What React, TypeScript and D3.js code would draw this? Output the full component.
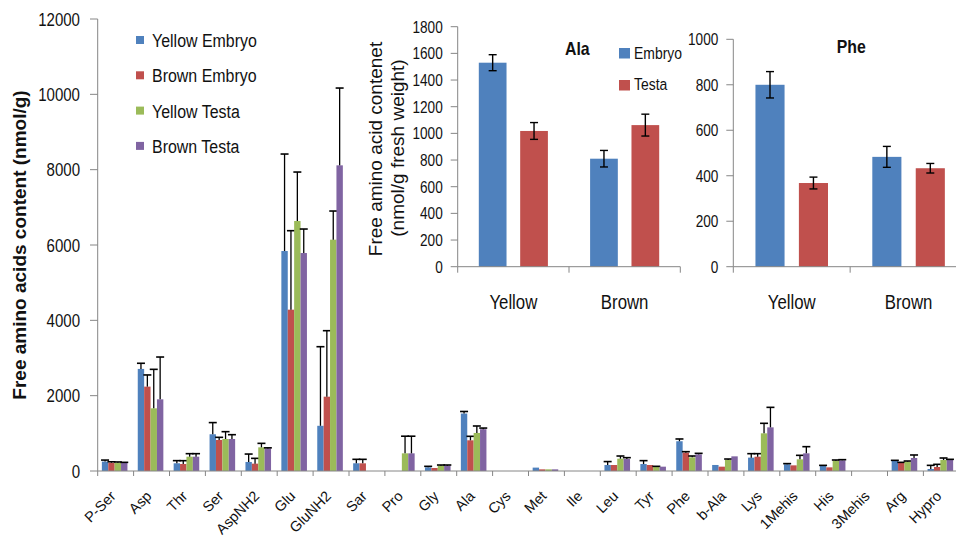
import React from 'react';
import * as d3 from 'd3';

const categories = ['P-Ser', 'Asp', 'Thr', 'Ser', 'AspNH2', 'Glu', 'GluNH2', 'Sar', 'Pro', 'Gly', 'Ala', 'Cys', 'Met', 'Ile', 'Leu', 'Tyr', 'Phe', 'b-Ala', 'Lys', '1Mehis', 'His', '3Mehis', 'Arg', 'Hypro'];

const yellowEmbryo = [250, 2710, 205, 975, 240, 5840, 1200, 205, 0, 97, 1525, 0, 90, 0, 160, 185, 790, 160, 355, 178, 133, 0, 265, 53];
const yellowEmbryoErr = [40, 150, 70, 310, 210, 2575, 2100, 105, 0, 27, 55, 0, 0, 0, 90, 90, 60, 0, 105, 18, 17, 0, 18, 97];

const brownEmbryo = [220, 2240, 186, 823, 195, 4283, 1973, 204, 0, 80, 815, 0, 44, 0, 159, 159, 487, 115, 380, 150, 97, 0, 212, 106];
const brownEmbryoErr = [25, 310, 88, 71, 141, 2097, 1752, 106, 0, 0, 106, 0, 0, 0, 0, 0, 26, 0, 80, 0, 0, 0, 18, 71];

const yellowTesta = [220, 1664, 380, 850, 628, 6637, 6141, 0, 469, 142, 1010, 0, 44, 0, 327, 106, 363, 292, 1000, 310, 274, 0, 248, 292];
const yellowTestaErr = [20, 1035, 80, 194, 106, 1300, 761, 0, 455, 17, 185, 0, 0, 0, 71, 18, 35, 26, 266, 106, 18, 0, 17, 53];

const brownTesta = [220, 1903, 380, 850, 600, 5787, 8115, 0, 469, 142, 1110, 0, 44, 0, 318, 115, 442, 389, 1159, 469, 283, 0, 345, 292];
const brownTestaErr = [10, 1123, 80, 114, 15, 637, 2052, 0, 455, 17, 30, 0, 0, 0, 36, 0, 27, 0, 531, 177, 18, 0, 80, 18];

const seriesNames = ['Yellow Embryo', 'Brown Embryo', 'Yellow Testa', 'Brown Testa'];
const seriesColors = ['#4F81BD', '#C0504D', '#9BBB59', '#8064A2'];
const mainTicks = [0, 2000, 4000, 6000, 8000, 10000, 12000];

const insetGroups = ['Yellow', 'Brown'];
const insetSeries = ['Embryo', 'Testa'];
const insetColors = ['#4F81BD', '#C0504D'];

const alaEmbryo = [1530, 810];
const alaEmbryoErr = [60, 62];
const alaTesta = [1018, 1062];
const alaTestaErr = [63, 82];
const alaTicks = [0, 200, 400, 600, 800, 1000, 1200, 1400, 1600, 1800];

const pheEmbryo = [800, 483];
const pheEmbryoErr = [58, 46];
const pheTesta = [368, 433];
const pheTestaErr = [26, 21];
const pheTicks = [0, 200, 400, 600, 800, 1000];

const FONT = '"Liberation Sans", Arial, sans-serif';
const AXIS = '#868686';

function T(props: any) {
  const { x, y, size, sx = 1, anchor = 'start', weight = 'normal', children } = props;
  return (
    <text transform={`translate(${x},${y}) scale(${sx},1)`} fontSize={size} textAnchor={anchor} fontWeight={weight} fill="#111" fontFamily={FONT}>
      {children}
    </text>
  );
}

function Inset(props: any) {
  const { x0, x1, yTop, yMax, ticks, embryo, embryoErr, testa, testaErr, title, titleX, titleY, legend } = props;
  const yBase = 266.7;
  const gx = d3.scaleBand<string>().domain(insetGroups).range([x0, x1]);
  const sx = d3.scaleBand<number>().domain([0, 1]).range([0, gx.bandwidth()]).paddingInner(0.33).paddingOuter(0.51);
  const y = d3.scaleLinear().domain([0, yMax]).range([yBase, yTop]);
  const vals = [embryo, testa];
  const errs = [embryoErr, testaErr];
  return (
    <g>
      {insetGroups.map((g, gi) =>
        [0, 1].map((si) => {
          const v = vals[si][gi];
          const e = errs[si][gi];
          const bx = (gx(g) as number) + (sx(si) as number);
          const bw = sx.bandwidth();
          const cx = bx + bw / 2;
          return (
            <g key={g + si}>
              <rect x={bx} y={y(v)} width={bw} height={yBase - y(v)} fill={insetColors[si]} />
              <line x1={cx} x2={cx} y1={y(v - e)} y2={y(v + e)} stroke="#000" strokeWidth={1.4} />
              <line x1={cx - 4} x2={cx + 4} y1={y(v - e)} y2={y(v - e)} stroke="#000" strokeWidth={1.4} />
              <line x1={cx - 4} x2={cx + 4} y1={y(v + e)} y2={y(v + e)} stroke="#000" strokeWidth={1.4} />
            </g>
          );
        })
      )}
      <line x1={x0} x2={x0} y1={y(yMax)} y2={yBase} stroke={AXIS} strokeWidth={1} />
      <line x1={x0} x2={x1} y1={yBase} y2={yBase} stroke={AXIS} strokeWidth={1} />
      {ticks.map((t: number) => (
        <g key={t}>
          <line x1={x0 - 7} x2={x0} y1={y(t)} y2={y(t)} stroke={AXIS} strokeWidth={1} />
          <T x={x0 - 15} y={y(t) + 6} size={17} sx={0.8} anchor="end">{t}</T>
        </g>
      ))}
      {[0, 1, 2].map((i) => {
        const tx = x0 + i * gx.bandwidth();
        return <line key={i} x1={tx} x2={tx} y1={yBase} y2={yBase + 6} stroke={AXIS} strokeWidth={1} />;
      })}
      {insetGroups.map((g) => (
        <T key={g} x={(gx(g) as number) + gx.bandwidth() / 2} y={309} size={21} sx={0.8} anchor="middle">{g}</T>
      ))}
      <T x={titleX} y={titleY} size={18} sx={0.88} weight="bold">{title}</T>
      {legend &&
        insetSeries.map((s, i) => (
          <g key={s}>
            <rect x={619} y={48 + i * 32} width={11} height={10.5} fill={insetColors[i]} />
            <T x={634} y={58.5 + i * 31} size={17} sx={0.82}>{s}</T>
          </g>
        ))}
    </g>
  );
}

export default function App() {
  const x = d3.scaleBand<string>().domain(categories).range([97.7, 97.7 + 24 * 35.9]);
  const xs = d3.scaleBand<number>().domain([0, 1, 2, 3]).range([0, x.bandwidth() - 2]).paddingOuter(0.65).paddingInner(0);
  const y = d3.scaleLinear().domain([0, 12000]).range([471, 19]);
  const series = [yellowEmbryo, brownEmbryo, yellowTesta, brownTesta];
  const errs = [yellowEmbryoErr, brownEmbryoErr, yellowTestaErr, brownTestaErr];
  const base = y(0);

  return (
    <svg width={956} height={540} style={{ position: 'absolute', left: 0, top: 0, background: '#fff' }} fontFamily={FONT}>
      <rect x={0} y={0} width={956} height={540} fill="#fff" />
      {categories.map((c, ci) =>
        series.map((s, si) => {
          const v = s[ci];
          const e = errs[si][ci];
          const bx = (x(c) as number) + (xs(si) as number);
          const bw = xs.bandwidth();
          const cx = bx + bw / 2;
          return (
            <g key={c + si}>
              {v > 0 && <rect x={bx} y={y(v)} width={bw} height={base - y(v)} fill={seriesColors[si]} />}
              {e > 0 && (
                <g>
                  <line x1={cx} x2={cx} y1={y(v)} y2={y(v + e)} stroke="#000" strokeWidth={1.3} />
                  <line x1={cx - 4} x2={cx + 4} y1={y(v + e)} y2={y(v + e)} stroke="#000" strokeWidth={1.6} />
                </g>
              )}
            </g>
          );
        })
      )}
      <line x1={97.7} x2={97.7} y1={y(12000)} y2={base} stroke={AXIS} strokeWidth={1} />
      <line x1={97.7} x2={956} y1={base} y2={base} stroke={AXIS} strokeWidth={1} />
      {mainTicks.map((t) => (
        <g key={t}>
          <line x1={90} x2={97.7} y1={y(t)} y2={y(t)} stroke={AXIS} strokeWidth={1} />
          <T x={80} y={y(t) + 6.5} size={17.5} sx={0.86} anchor="end">{t}</T>
        </g>
      ))}
      {d3.range(categories.length + 1).map((i) => {
        const tx = 97.7 + i * x.bandwidth();
        return <line key={i} x1={tx} x2={tx} y1={base} y2={base + 5} stroke={AXIS} strokeWidth={1} />;
      })}
      {categories.map((c) => (
        <text key={c} transform={`translate(${(x(c) as number) + x.bandwidth() / 2 + 1},${497}) rotate(-45)`} fontSize={14.5} textAnchor="end" fill="#111" fontFamily={FONT}>
          {c}
        </text>
      ))}
      <text transform={`translate(19,${(y(0) + y(12000)) / 2}) rotate(-90)`} fontSize={19} fontWeight="bold" textAnchor="middle" dominantBaseline="central" fill="#111" fontFamily={FONT}>
        Free amino acids content (nmol/g)
      </text>
      {seriesNames.map((s, i) => (
        <g key={s}>
          <rect x={136} y={36 + i * 35.3} width={8} height={8} fill={seriesColors[i]} />
          <T x={152} y={47 + i * 35.3} size={19} sx={0.84}>{s}</T>
        </g>
      ))}
      <text transform="translate(375,149) rotate(-90)" fontSize={19} textAnchor="middle" dominantBaseline="central" fill="#111" fontFamily={FONT}>
        Free amino acid contenet
      </text>
      <text transform="translate(397,148) rotate(-90)" fontSize={19} textAnchor="middle" dominantBaseline="central" fill="#111" fontFamily={FONT}>
        (nmol/g fresh weight)
      </text>
      <Inset x0={457.7} x1={680.3} yTop={26.7} yMax={1800} ticks={alaTicks} embryo={alaEmbryo} embryoErr={alaEmbryoErr} testa={alaTesta} testaErr={alaTestaErr} title="Ala" titleX={565} titleY={55} legend={true} />
      <Inset x0={733.3} x1={967} yTop={39.3} yMax={1000} ticks={pheTicks} embryo={pheEmbryo} embryoErr={pheEmbryoErr} testa={pheTesta} testaErr={pheTestaErr} title="Phe" titleX={836.7} titleY={52.7} legend={false} />
    </svg>
  );
}
